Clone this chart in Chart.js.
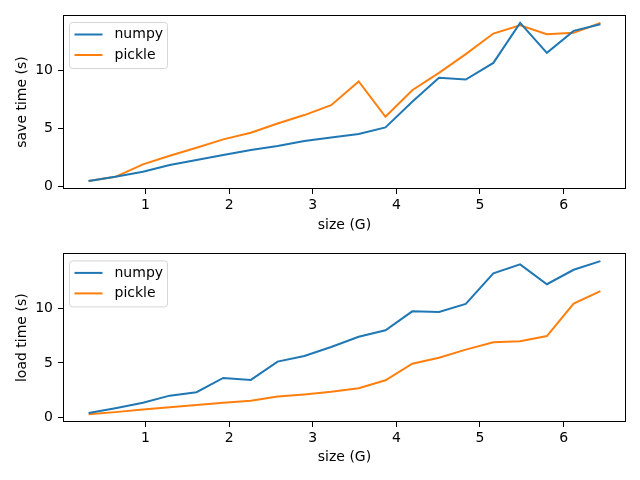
<!DOCTYPE html>
<html>
<head>
<meta charset="utf-8">
<script src="https://cdn.jsdelivr.net/npm/chart.js@4/dist/chart.umd.min.js"></script>
<style>
  html, body { margin: 0; padding: 0; background: #fff; }
  .box { position: absolute; left: 0; width: 640px; height: 240px; }
</style>
</head>
<body>
<div class="box" style="top:0"><canvas id="save_chart" width="640" height="240"></canvas></div>
<div class="box" style="top:240px"><canvas id="load_chart" width="640" height="240"></canvas></div>
<script>
// data
var sizes = [0.32, 0.64, 0.97, 1.29, 1.61, 1.93, 2.26, 2.58, 2.90, 3.22, 3.55, 3.87, 4.19, 4.51, 4.83, 5.16, 5.48, 5.80, 6.12, 6.44];
var saveNumpy = [0.43, 0.8, 1.24, 1.82, 2.25, 2.69, 3.12, 3.47, 3.9, 4.22, 4.52, 5.09, 7.31, 9.39, 9.25, 10.69, 14.16, 11.56, 13.47, 14.05];
var savePickle = [0.43, 0.8, 1.88, 2.63, 3.32, 4.05, 4.62, 5.43, 6.16, 7.02, 9.08, 6.01, 8.32, 9.83, 11.45, 13.24, 13.96, 13.18, 13.3, 14.16];
var loadNumpy = [0.39, 0.83, 1.34, 1.99, 2.31, 3.62, 3.44, 5.13, 5.64, 6.47, 7.42, 8.01, 9.76, 9.7, 10.45, 13.26, 14.09, 12.26, 13.59, 14.39];
var loadPickle = [0.27, 0.47, 0.71, 0.92, 1.13, 1.34, 1.51, 1.9, 2.1, 2.34, 2.67, 3.41, 4.93, 5.49, 6.23, 6.91, 7.0, 7.48, 10.47, 11.63];
var seriesNames = ['numpy', 'pickle'];
var xTicks = [1, 2, 3, 4, 5, 6];
var yTicks = [0, 5, 10];

var blue = '#1f77b4', orange = '#ff7f0e';
var font = { family: 'DejaVu Sans', size: 14 };

function pts(ys) {
  return sizes.map(function (x, i) { return { x: x, y: ys[i] }; });
}

// axes frame + matplotlib style legend inside the plot
var framePlugin = {
  id: 'frame',
  afterDraw: function (chart) {
    var ctx = chart.ctx, a = chart.chartArea;
    ctx.save();
    ctx.strokeStyle = '#000';
    ctx.lineWidth = 1;
    ctx.strokeRect(Math.round(a.left) + 0.5, Math.round(a.top) + 0.5,
      Math.round(a.right - a.left) - 1, Math.round(a.bottom - a.top) - 1);

    var bx = a.left + 6.5, by = a.top + 7.5, bw = 98, bh = 46, r = 3;
    ctx.beginPath();
    ctx.moveTo(bx + r, by);
    ctx.arcTo(bx + bw, by, bx + bw, by + bh, r);
    ctx.arcTo(bx + bw, by + bh, bx, by + bh, r);
    ctx.arcTo(bx, by + bh, bx, by, r);
    ctx.arcTo(bx, by, bx + bw, by, r);
    ctx.closePath();
    ctx.fillStyle = 'rgba(255,255,255,0.8)';
    ctx.fill();
    ctx.strokeStyle = '#d5d5d5';
    ctx.lineWidth = 1;
    ctx.stroke();

    ctx.font = '14px "DejaVu Sans"';
    ctx.textBaseline = 'middle';
    ctx.fillStyle = '#000';
    chart.data.datasets.forEach(function (ds, i) {
      var ly = by + 12 + i * 20.5;
      ctx.beginPath();
      ctx.moveTo(bx + 5, ly);
      ctx.lineTo(bx + 33, ly);
      ctx.strokeStyle = ds.borderColor;
      ctx.lineWidth = 2;
      ctx.stroke();
      ctx.fillText(ds.label, bx + 45, ly);
    });
    ctx.restore();
  }
};

function makeChart(id, numpy, pickle, yTitle, yMin, yMax, padTop, xHeight, xTitlePad) {
  var context = document.querySelector(id).getContext('2d');
  return new Chart(context, {
    type: 'line',
    data: {
      datasets: [
        { label: seriesNames[0], data: pts(numpy), borderColor: blue, borderWidth: 2, pointRadius: 0, tension: 0 },
        { label: seriesNames[1], data: pts(pickle), borderColor: orange, borderWidth: 2, pointRadius: 0, tension: 0 }
      ]
    },
    options: {
      responsive: false,
      animation: false,
      layout: { padding: { left: 0, right: 14, top: padTop, bottom: 0 } },
      plugins: { legend: { display: false }, tooltip: { enabled: false } },
      scales: {
        x: {
          type: 'linear',
          min: 0.014,
          max: 6.746,
          afterBuildTicks: function (s) { s.ticks = xTicks.map(function (v) { return { value: v }; }); },
          afterFit: function (s) { s.height = xHeight; },
          ticks: { color: '#000', font: font, padding: 3, maxRotation: 0 },
          grid: { drawOnChartArea: false, drawTicks: true, tickLength: 5, color: '#000' },
          border: { display: false },
          title: { display: true, text: 'size (G)', color: '#000', font: font, padding: { top: 0, bottom: xTitlePad } }
        },
        y: {
          type: 'linear',
          min: yMin,
          max: yMax,
          afterBuildTicks: function (s) { s.ticks = yTicks.map(function (v) { return { value: v }; }); },
          afterFit: function (s) { s.width = 63; },
          ticks: { color: '#000', font: font, padding: 5 },
          grid: { drawOnChartArea: false, drawTicks: true, tickLength: 5, color: '#000' },
          border: { display: false },
          title: { display: true, text: yTitle, color: '#000', font: font, padding: { top: 13.6, bottom: 0 } }
        }
      }
    },
    plugins: [framePlugin]
  });
}

window.onload = function () {
  makeChart('#save_chart', saveNumpy, savePickle, 'save time (s)', -0.26, 14.85, 15, 51, 6.6);
  makeChart('#load_chart', loadNumpy, loadPickle, 'load time (s)', -0.44, 15.1, 7, 58, 14.3);
};
</script>
</body>
</html>
